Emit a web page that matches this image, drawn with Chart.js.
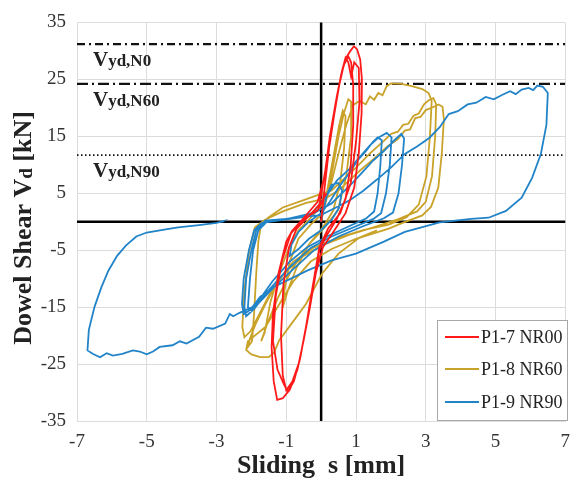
<!DOCTYPE html>
<html>
<head>
<meta charset="utf-8">
<script src="https://cdn.jsdelivr.net/npm/chart.js@4.4.0/dist/chart.umd.min.js"></script>
<style>
  html, body { margin: 0; padding: 0; background: #fff; }
  #wrap { width: 580px; height: 482px; }
</style>
</head>
<body>
<div id="wrap"><canvas id="chart" width="580" height="482"></canvas></div>
<script>
const xTicks = [-7, -5, -3, -1, 1, 3, 5, 7];
const yTicks = [-35, -25, -15, -5, 5, 15, 25, 35];

const seriesNames = ['P1-7 NR00', 'P1-8 NR60', 'P1-9 NR90'];
const seriesColors = ['#ff1a1a', '#c9a22a', '#2183c8'];

// design shear resistance levels [kN]
const vydNames = ['N0', 'N60', 'N90'];
const vydValues = [31.2, 24.2, 11.7];

// sliding s [mm], shear Vd [kN]
const nr00 = [
  [0,0],[0.1,6],[0.23,13],[0.38,19],[0.52,24],[0.65,27.5],[0.78,29],[0.86,28],[0.92,24],[0.92,17],[0.85,10],[0.7,4],[0.45,0.5],
  [0.15,-2.5],[-0.05,-5],[-0.25,-12],[-0.45,-19],[-0.62,-24.5],[-0.82,-28],[-1.0,-29.6],[-1.1,-27],[-1.15,-20],[-1.08,-11],
  [-0.92,-4.5],[-0.7,-1.2],[-0.35,1],[-0.05,3],
  [0.12,9],[0.25,15],[0.42,21],[0.58,26],[0.72,28.8],[0.84,30],[0.94,30.8],[1.03,30.3],[1.12,28.5],[1.17,25],[1.16,19],
  [1.08,12],[0.95,6],[0.7,1.5],[0.35,-1.8],[0.05,-4.5],[-0.15,-9],[-0.32,-15],[-0.5,-20.8],[-0.68,-26],[-0.9,-29.5],
  [-1.1,-31],[-1.26,-31.3],[-1.36,-28],[-1.42,-22],[-1.38,-16],[-1.22,-9],[-1.0,-3.5],[-0.83,-1.6],[-0.45,1],[-0.1,3.5],
  [0.1,8],[0.3,16],[0.45,22],[0.6,26.5],[0.7,28.8],[0.78,28],[0.86,25.5],[0.95,28],[1.08,27],[1.1,21],[1.0,14],[0.85,6.8],
  [0.55,1.5],[0.2,-1.2],[-0.05,-4.5],[-0.26,-12],[-0.42,-18],[-0.6,-24],[-0.78,-28],[-0.95,-29.8],[-1.05,-28.8],
  [-1.25,-26],[-1.38,-21],[-1.3,-13],[-1.12,-6.8],[-0.86,-2],[-0.5,0.5],[-0.1,2],[0.15,5]
];

const nr60 = [
  [0,0],[0.1,3],[0.25,8],[0.4,13],[0.52,17],[0.62,19.5],[0.7,18.5],[0.66,13],[0.55,7],[0.35,2],[0.05,-1],[-0.35,-4],
  [-0.7,-8],[-0.95,-12],[-1.1,-15],[-1.05,-12],[-0.9,-7],[-0.65,-3],[-0.3,-0.5],[0.05,1.5],
  [0.2,5],[0.35,10],[0.5,15],[0.65,19],[0.78,21.5],[0.88,21],[0.86,15],[0.72,8],[0.48,2],[0.1,-1],[-0.35,-4],[-0.85,-8.5],
  [-1.25,-13.5],[-1.55,-18],[-1.72,-21],[-1.62,-19.5],[-1.45,-14],[-1.2,-9],[-0.95,-5],[-0.65,-1.5],[-0.25,1],[0.1,3.5],
  [0.3,7],[0.5,12],[0.72,17],[0.92,20.5],[1.1,21.2],[1.28,20.6],[1.4,22],[1.52,21.4],[1.64,22.6],[1.76,22.2],[1.88,23.8],
  [2.0,24.3],[2.3,24.2],[2.6,23.8],[2.9,23.3],[3.08,22.6],[3.17,21.2],[3.12,15],[3.02,8],[2.8,3],[2.45,0.8],[1.94,-0.5],
  [1.2,-1.5],[0.5,-2.8],[-0.2,-4.5],[-0.8,-7],[-1.25,-10.5],[-1.6,-14.5],[-1.88,-18],[-2.04,-20.5],[-2.1,-22],[-1.98,-21],
  [-1.92,-16],[-1.86,-9],[-1.8,-3.5],[-1.72,-0.3],[-1.5,0.8],[-1.1,2.5],[-0.5,3.8],[0,4.9],[0.3,5.5],
  [0.6,7.2],[1.0,9.5],[1.4,12],[1.8,14.2],[2.0,15.4],[2.2,15.8],[2.35,17],[2.5,17.2],[2.65,18.6],[2.8,19],[2.95,20.6],
  [3.1,21.4],[3.22,21.7],[3.3,20.6],[3.27,15],[3.18,8],[3.0,3.5],[2.75,1.8],[2.2,0.4],[1.5,-1],[0.8,-2.3],[0.1,-4],
  [-0.5,-6],[-1.05,-9],[-1.5,-13],[-1.82,-16.8],[-2.02,-19.2],[-2.2,-20.3],[-2.26,-18.5],[-2.2,-12],[-2.06,-5],[-1.9,-1],
  [-1.62,0.3],[-1.1,1.8],[-0.43,3.3],[0.1,4],
  [0.5,5.5],[1.1,8.9],[1.5,11],[1.9,13.2],[2.2,14.5],[2.4,16],[2.55,16.2],[2.7,18.2],[2.85,18.4],[3.0,19.6],[3.2,20.1],
  [3.37,20.6],[3.48,20.2],[3.52,18],[3.46,12],[3.36,6],[3.15,2.6],[2.9,1.1],[2.3,-0.3],[1.94,-1.2],[1.0,-3],[0.3,-4.8],
  [-0.3,-7],[-0.8,-10.5],[-1.2,-14.5],[-1.6,-18.5],[-1.9,-20],[-2.1,-21],[-2.15,-22.5],[-2.0,-23.3],[-1.75,-23.8],
  [-1.5,-23.8],[-1.35,-23],[-1.2,-20.8],[-0.8,-17.5],[-0.43,-14.4],[0.03,-9.1],[0.5,-5.6],[1.1,-2.8],[1.6,-1.5]
];

const nr90 = [
  [0,0],[0.08,2.5],[0.18,5],[0.3,6.5],[0.5,6.8],[0.6,5.5],[0.52,2.5],[0.3,0.3],[0,-1.5],[-0.35,-3],[-0.65,-4.8],[-0.9,-6],
  [-0.85,-4],[-0.65,-1.8],[-0.35,0],[0,1.5],
  [0.25,3.5],[0.5,6],[0.8,8.5],[1.05,10.8],[1.3,12.5],[1.48,14],[1.62,14.8],[1.74,14.3],[1.7,10],[1.62,5],[1.52,1.8],
  [1.3,0.6],[0.8,-0.8],[0.2,-2.5],[-0.4,-4.5],[-0.9,-7],[-1.4,-10.5],[-1.78,-13.8],[-2.0,-15.6],[-2.1,-15],[-2.04,-10],
  [-1.95,-5],[-1.8,-1.5],[-1.55,0],[-0.9,0.6],[-0.25,1.5],
  [0.15,4.5],[0.45,7.2],[0.8,9.2],[1.1,11.3],[1.4,13.4],[1.65,14.8],[1.88,15.6],[2.02,14.8],[1.97,10],[1.86,5],[1.72,1.5],
  [1.5,0.5],[1.0,-0.8],[0.3,-2.6],[-0.3,-4.6],[-0.9,-8],[-1.5,-12],[-1.92,-15.3],[-2.15,-16.6],[-2.2,-15],[-2.15,-10],
  [-2.0,-5],[-1.86,-1.5],[-1.6,0.2],[-1.0,0.5],[-0.3,1.2],
  [0.3,3.2],[0.6,5],[0.9,6.8],[1.2,8.8],[1.5,10.8],[1.8,12.4],[2.1,14.3],[2.3,15.4],[2.38,14.6],[2.32,10],[2.22,5],
  [2.06,1.6],[1.8,0.6],[1.2,-0.8],[0.5,-2.6],[-0.2,-5],[-0.83,-8.5],[-1.4,-11.8],[-1.9,-15],[-2.22,-16.2],[-2.27,-14.5],
  [-2.22,-10],[-2.07,-5],[-1.92,-1.5],[-1.7,-0.2],[-1.0,0.4],[0,1.2],
  [0.4,2.4],[0.8,3.7],[1.2,5.4],[1.6,7.4],[2.0,9.5],[2.4,11.9],[2.75,13.2],[3.1,14.7],[3.4,16.6],[3.66,18.9],[3.92,19.4],
  [4.2,20.6],[4.45,20.9],[4.72,21.9],[4.95,21.5],[5.2,22.3],[5.42,22.9],[5.58,22.4],[5.75,23.2],[5.95,23.5],[6.08,23.1],
  [6.2,23.9],[6.36,23.7],[6.5,22.6],[6.46,17],[6.3,11.9],[6.05,7.7],[5.75,4.2],[5.3,1.9],[4.8,0.7],[4.3,0.5],[3.4,-0.1],
  [2.4,-1.8],[1.8,-3.5],[1.0,-5.6],[0.3,-6.8],[-0.4,-8.6],[-1.0,-10.4],[-1.4,-11.6],[-1.75,-13.2],[-1.97,-15],[-2.34,-16],
  [-2.52,-16.6],[-2.62,-16.2],[-2.75,-17.9],[-3.1,-18.8],[-3.3,-18.6],[-3.5,-20.2],[-3.86,-21.4],[-4.05,-21],[-4.26,-21.7],
  [-4.63,-22],[-4.82,-22.8],[-5.0,-23.3],[-5.2,-22.8],[-5.4,-22.6],[-5.7,-23.2],[-5.97,-23.5],[-6.15,-23.1],[-6.34,-23.8],
  [-6.55,-23.2],[-6.7,-22.6],[-6.66,-19],[-6.5,-15],[-6.3,-11.5],[-6.1,-8.6],[-5.85,-6],[-5.6,-4.2],[-5.3,-2.6],[-5.0,-1.9],
  [-4.5,-1.4],[-4.1,-1.0],[-3.5,-0.6],[-3.0,-0.2],[-2.8,0.1],[-2.85,-0.1]
];

const serif = "'Liberation Serif', 'Times New Roman', serif";
const toPoints = arr => arr.map(p => ({x: p[0], y: p[1]}));

const loops = [nr00, nr90, nr60];
const loopIdx = [0, 2, 1];   // red on top, then blue, gold underneath
const vydDash = [[8, 4, 2, 4], [11, 4, 2, 4], [1.5, 2.5]];

const datasets = [];
loops.forEach((arr, i) => {
  const k = loopIdx[i];
  datasets.push({
    label: seriesNames[k],
    data: toPoints(arr),
    borderColor: seriesColors[k],
    borderWidth: 1.8,
    pointRadius: 0,
    showLine: true,
    tension: 0,
    fill: false
  });
});
vydValues.forEach((v, i) => {
  datasets.push({
    label: 'Vyd,' + vydNames[i],
    data: [{x: xTicks[0], y: v}, {x: xTicks[xTicks.length - 1], y: v}],
    borderColor: '#111',
    borderWidth: i < 2 ? 2.2 : 1.6,
    borderDash: vydDash[i],
    pointRadius: 0,
    showLine: true
  });
});

const decor = {
  id: 'decor',
  beforeDatasetsDraw(chart) {
    const {ctx, chartArea: a, scales: {x, y}} = chart;
    const x0 = x.getPixelForValue(0), y0 = y.getPixelForValue(0);
    ctx.save();
    ctx.strokeStyle = '#000';
    ctx.lineWidth = 2.5;
    ctx.beginPath();
    ctx.moveTo(x0, a.top); ctx.lineTo(x0, a.bottom);
    ctx.moveTo(a.left, y0); ctx.lineTo(a.right, y0);
    ctx.stroke();
    ctx.restore();
  },
  afterDraw(chart) {
    const {ctx, chartArea: a, scales: {x, y}} = chart;
    ctx.save();
    ctx.fillStyle = '#222';

    // Vyd labels under each level line
    ctx.textBaseline = 'alphabetic';
    vydValues.forEach((v, i) => {
      const py = y.getPixelForValue(v) + 22;
      const px = a.left + 16;
      ctx.font = 'bold 21px ' + serif;
      ctx.fillText('V', px, py);
      const w = ctx.measureText('V').width;
      ctx.font = 'bold 17px ' + serif;
      ctx.fillText('yd,' + vydNames[i], px + w, py);
    });

    // x title
    ctx.font = 'bold 26px ' + serif;
    ctx.textAlign = 'center';
    ctx.textBaseline = 'middle';
    ctx.fillText('Sliding  s [mm]', (a.left + a.right) / 2, 466);

    // y title, with subscript d
    ctx.save();
    ctx.translate(24, 228);
    ctx.rotate(-Math.PI / 2);
    ctx.textAlign = 'left';
    const big = 'bold 26px ' + serif, small = 'bold 19px ' + serif;
    const parts = [['Dowel Shear V', big, 0], ['d', small, 3], [' [kN]', big, 0]];
    let total = 0;
    parts.forEach(p => { ctx.font = p[1]; total += ctx.measureText(p[0]).width; });
    let cx = -total / 2;
    parts.forEach(p => {
      ctx.font = p[1];
      ctx.fillText(p[0], cx, p[2]);
      cx += ctx.measureText(p[0]).width;
    });
    ctx.restore();

    // legend box in lower right corner
    const lx = 437.5, ly = 320.5, lw = 130, lh = 100;
    ctx.fillStyle = '#fff';
    ctx.fillRect(lx, ly, lw, lh);
    ctx.strokeStyle = '#a8a8a8';
    ctx.lineWidth = 1;
    ctx.strokeRect(lx, ly, lw, lh);
    ctx.font = '18px ' + serif;
    ctx.textAlign = 'left';
    ctx.textBaseline = 'middle';
    const rows = [337, 369, 402];
    seriesNames.forEach((name, i) => {
      ctx.strokeStyle = seriesColors[i];
      ctx.lineWidth = 2;
      ctx.beginPath();
      ctx.moveTo(445, rows[i]); ctx.lineTo(479, rows[i]);
      ctx.stroke();
      ctx.fillStyle = '#222';
      ctx.fillText(name, 481, rows[i] + 1);
    });
    ctx.restore();
  }
};

new Chart(document.getElementById('chart'), {
  type: 'scatter',
  data: {datasets},
  options: {
    responsive: false,
    animation: false,
    devicePixelRatio: 1,
    layout: {padding: {left: 0, right: 13, top: 21, bottom: 0}},
    plugins: {legend: {display: false}, tooltip: {enabled: false}},
    scales: {
      x: {
        type: 'linear',
        min: xTicks[0],
        max: xTicks[xTicks.length - 1],
        afterBuildTicks: s => { s.ticks = xTicks.map(v => ({value: v})); },
        afterFit: s => { s.height = 61; },
        grid: {color: '#dcdcdc', lineWidth: 1, drawTicks: false},
        border: {color: '#dcdcdc'},
        ticks: {padding: 10, color: '#333', font: {family: serif, size: 19}}
      },
      y: {
        type: 'linear',
        min: yTicks[0],
        max: yTicks[yTicks.length - 1],
        afterBuildTicks: s => { s.ticks = yTicks.map(v => ({value: v})); },
        afterFit: s => { s.width = 77; },
        grid: {color: '#dcdcdc', lineWidth: 1, drawTicks: false},
        border: {color: '#dcdcdc'},
        ticks: {padding: 11, color: '#333', font: {family: serif, size: 19}}
      }
    }
  },
  plugins: [decor]
});
</script>
</body>
</html>
